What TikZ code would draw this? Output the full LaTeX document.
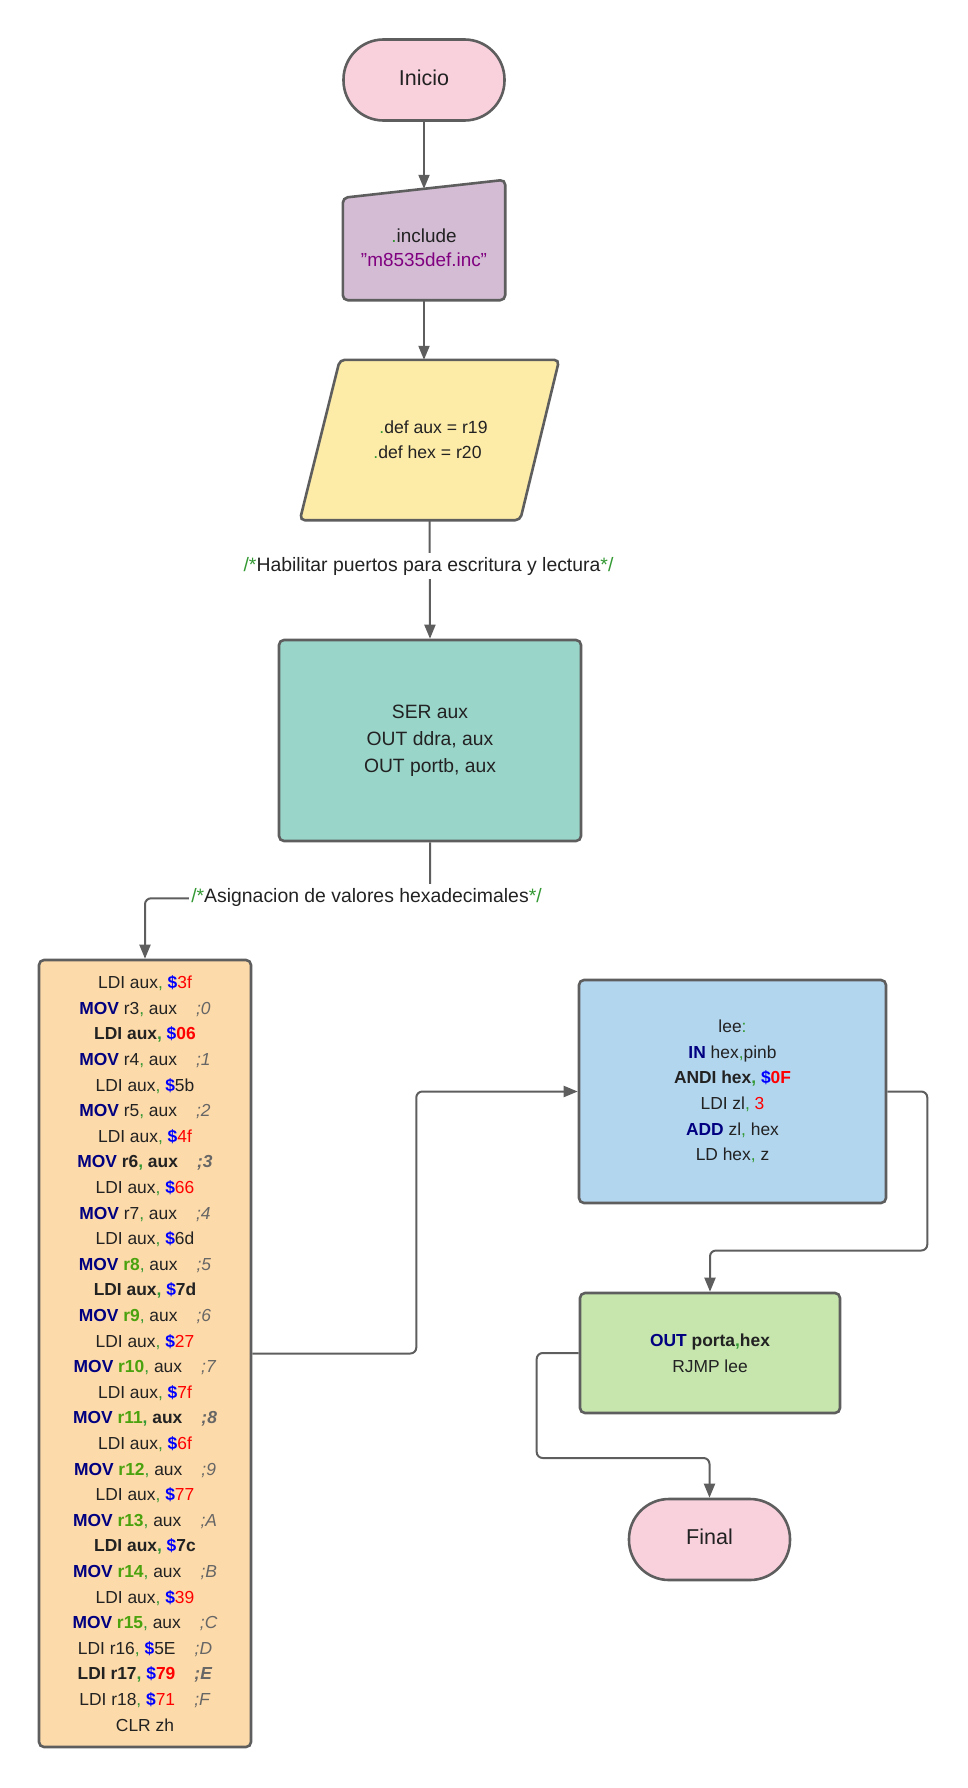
\documentclass[tikz,border=0pt]{standalone}
\usepackage{fontspec}
\setmainfont{Liberation Sans}
\usepackage{xcolor}
\usetikzlibrary{positioning, calc, arrows.meta}

\definecolor{edge}{HTML}{5E5E5E}
\definecolor{ink}{HTML}{222222}
\definecolor{kwnavy}{HTML}{000080}
\definecolor{dolblue}{HTML}{0000FF}
\definecolor{hexred}{HTML}{FF0000}
\definecolor{cgreen}{HTML}{339933}
\definecolor{rgreen}{HTML}{4AA20E}
\definecolor{cgray}{HTML}{666666}
\definecolor{incpurple}{HTML}{800080}
\definecolor{pinkfill}{HTML}{F9D1DD}
\definecolor{lilacfill}{HTML}{D3BCD4}
\definecolor{yellowfill}{HTML}{FDEBA8}
\definecolor{tealfill}{HTML}{9AD5CA}
\definecolor{peachfill}{HTML}{FDDAA9}
\definecolor{bluefill}{HTML}{B3D6EF}
\definecolor{greenfill}{HTML}{C6E6AE}

\newcommand{\kw}[1]{\textcolor{kwnavy}{\textbf{#1}}}
\newcommand{\cma}{\textcolor{cgreen}{,}}
\newcommand{\dol}{\textcolor{dolblue}{\textbf{\$}}}
\newcommand{\hx}[1]{\textcolor{hexred}{#1}}
\newcommand{\rg}[1]{\textcolor{rgreen}{\textbf{#1}}}
\newcommand{\cmt}[1]{\textcolor{cgray}{\textit{#1}}}
\newcommand{\gap}{\hspace{1.1em}}

\pgfdeclarelayer{bg}
\pgfsetlayers{bg,main}

\begin{document}
\begin{tikzpicture}[x=1pt, y=-1pt,
  box/.style={draw=edge, line width=2.6pt, rounded corners=5pt, align=center, text=ink, inner sep=0pt},
  term/.style={box, rounded corners=40pt, fill=pinkfill, minimum width=161pt, minimum height=81pt,
               text depth=5pt, font=\fontsize{21.5}{25}\selectfont},
  code/.style={font=\fontsize{17.4}{25.6}\selectfont},
  conn/.style={draw=edge, line width=2pt, rounded corners=6pt},
  arr/.style={conn, -{Triangle[length=14pt, width=11pt]}},
  note/.style={fill=white, inner xsep=2pt, inner ysep=4pt, text=ink, font=\fontsize{19.4}{23}\selectfont}]
      \useasboundingbox (0,0) rectangle (967,1788);
      % terminals and boxes
      \node[term] (inicio) at (424,80) {Inicio};
      \node[align=center, text=ink, inner sep=0pt, minimum width=162pt, minimum height=104pt,
            font=\fontsize{18.9}{24}\selectfont] (incl) at (424,248)
            {\textcolor{cgreen}{.}include\\\textcolor{incpurple}{"m8535def.inc"}};
      \node[align=center, text=ink, inner sep=0pt, minimum width=259pt, minimum height=160pt,
            font=\fontsize{17.6}{25}\selectfont] (defs) at (429.5,440)
            {\hspace*{8pt}\textcolor{cgreen}{.}def aux = r19\\\textcolor{cgreen}{.}def hex = r20\hspace*{4pt}};
      \node[box, fill=tealfill, minimum width=302pt, minimum height=201pt,
            font=\fontsize{19.3}{27}\selectfont] (ser) at (430,740.5)
            {SER aux\\OUT ddra, aux\\OUT portb, aux};
      \node[box, code, fill=peachfill, minimum width=212pt, minimum height=787pt] (vals) at (145,1353.5) {%
        LDI aux\cma{} \dol\hx{3f}\\
        \kw{MOV} r3\cma{} aux\gap\cmt{;0}\\
        \textbf{LDI aux\cma{} \dol\hx{06}}\\
        \kw{MOV} r4\cma{} aux\gap\cmt{;1}\\
        LDI aux\cma{} \dol 5b\\
        \kw{MOV} r5\cma{} aux\gap\cmt{;2}\\
        LDI aux\cma{} \dol\hx{4f}\\
        \kw{MOV} \textbf{r6\cma{} aux}\gap\textbf{\cmt{;3}}\\
        LDI aux\cma{} \dol\hx{66}\\
        \kw{MOV} r7\cma{} aux\gap\cmt{;4}\\
        LDI aux\cma{} \dol 6d\\
        \kw{MOV} \rg{r8}\cma{} aux\gap\cmt{;5}\\
        \textbf{LDI aux\cma{} \dol 7d}\\
        \kw{MOV} \rg{r9}\cma{} aux\gap\cmt{;6}\\
        LDI aux\cma{} \dol\hx{27}\\
        \kw{MOV} \rg{r10}\cma{} aux\gap\cmt{;7}\\
        LDI aux\cma{} \dol\hx{7f}\\
        \kw{MOV} \rg{r11}\textbf{\cma{} aux}\gap\textbf{\cmt{;8}}\\
        LDI aux\cma{} \dol\hx{6f}\\
        \kw{MOV} \rg{r12}\cma{} aux\gap\cmt{;9}\\
        LDI aux\cma{} \dol\hx{77}\\
        \kw{MOV} \rg{r13}\cma{} aux\gap\cmt{;A}\\
        \textbf{LDI aux\cma{} \dol 7c}\\
        \kw{MOV} \rg{r14}\cma{} aux\gap\cmt{;B}\\
        LDI aux\cma{} \dol\hx{39}\\
        \kw{MOV} \rg{r15}\cma{} aux\gap\cmt{;C}\\
        LDI r16\cma{} \dol 5E\gap\cmt{;D}\\
        \textbf{LDI r17\cma{} \dol\hx{79}\gap\cmt{;E}}\\
        LDI r18\cma{} \dol\hx{71}\gap\cmt{;F}\\
        CLR zh};
      \node[box, code, fill=bluefill, minimum width=307pt, minimum height=223pt] (lee) at (732.5,1091.5)
            {lee\textcolor{cgreen}{:}\\\kw{IN} hex\cma pinb\\\textbf{ANDI hex\cma{} \dol\hx{0F}}\\
             LDI zl\cma{} \hx{3}\\\kw{ADD} zl\cma{} hex\\LD hex\cma{} z};
      \node[box, code, fill=greenfill, minimum width=260pt, minimum height=120pt] (outp) at (710,1353)
            {\kw{OUT} \textbf{porta\cma hex}\\RJMP lee};
      \node[term] (final) at (709.5,1539.5) {Final};
      % outlines drawn behind their text
      \begin{pgfonlayer}{bg}
        \draw[box, fill=lilacfill] ([yshift=-2pt]incl.north west) -- ([yshift=16pt]incl.north east)
             -- (incl.south east) -- (incl.south west) -- cycle;
        \draw[box, fill=yellowfill] ([xshift=40pt]defs.north west) -- (defs.north east)
             -- ([xshift=-39pt]defs.south east) -- (defs.south west) -- cycle;
      \end{pgfonlayer}
      % connectors
      \draw[arr] (inicio.south) -- ([yshift=7pt]incl.north);
      \draw[arr] (incl.south) -- (incl.south |- defs.north);
      \draw[arr] (defs.south) -- (ser.north);
      \draw[arr] (ser.south) -- ++(0,56) -| (vals.north);
      \draw[arr] (vals.east) -- ++(164,0) |- (lee.west);
      \draw[arr] (lee.east) -- ++(40,0) -- ++(0,159) -| (outp.north);
      \draw[arr] (outp.west) -- ++(-42,0) -- ++(0,105) -| (final.north);
      % comments on the connectors
      \node[note] (hab) at (428.5,566)
            {\textcolor{cgreen}{/*}Habilitar puertos para escritura y lectura\textcolor{cgreen}{*/}};
      \node[note] (asig) at (366.5,897)
            {\textcolor{cgreen}{/*}Asignacion de valores hexadecimales\textcolor{cgreen}{*/}};
    \end{tikzpicture}
\end{document}
